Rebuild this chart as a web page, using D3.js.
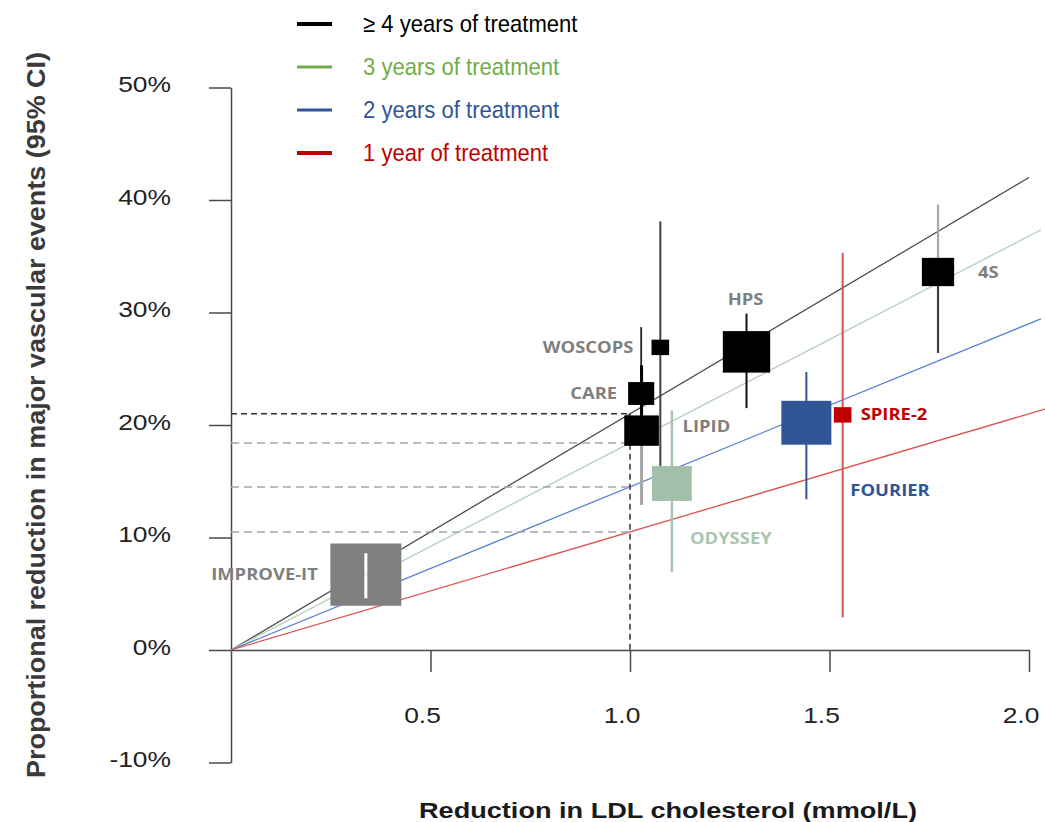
<!DOCTYPE html>
<html><head><meta charset="utf-8">
<script src="https://cdn.jsdelivr.net/npm/d3@7"></script>
<style>body{margin:0;background:#fff}</style>
</head><body>
<script>
// ---------------- DATA ----------------
const studies        = ["IMPROVE-IT","WOSCOPS","CARE","LIPID","ODYSSEY","HPS","FOURIER","SPIRE-2","4S"];
const ldlReduction   = [0.338, 1.076, 1.028, 1.029, 1.105, 1.292, 1.442, 1.533, 1.772];   // mmol/L
const riskReduction  = [6.7, 26.9, 22.8, 19.5, 14.8, 26.5, 20.2, 20.9, 33.6];            // %
const ciLower        = [4.6, 16.3, 19.0, 12.9, 6.9, 21.5, 13.4, 2.9, 26.4];
const ciUpper        = [8.6, 38.1, 28.7, 25.3, 21.3, 29.9, 24.7, 35.3, 39.6];
const studyWeight    = [50.4, 3.1, 6.8, 12.0, 15.8, 22.4, 25.0, 3.1, 10.4];
const treatmentGroup = ["ezetimibe","≥4","≥4","≥4","3","≥4","2","1","≥4"];

const groupKeys      = ["≥4","3","2","1"];
const legendLabels   = ["≥ 4 years of treatment","3 years of treatment","2 years of treatment","1 year of treatment"];
const slopePerMmol   = [21, 18.4, 14.5, 10.5];     // % reduction per 1 mmol/L
const lineEndLDL     = [2.0, 2.03, 2.03, 2.04];

const yTicks = [-10, 0, 10, 20, 30, 40, 50];
const xTicks = [0.5, 1.0, 1.5, 2.0];

// ---------------- STYLES ----------------
const W = 1045, H = 822;
const FONT = "'Liberation Sans', Arial, sans-serif";
const legendColor = {"≥4":"#000000","3":"#70ad47","2":"#2f5597","1":"#c00000"};
const trendColor  = {"≥4":"#4d4d4d","3":"#b4cfba","2":"#5a80d0","1":"#d9534f"};
const boxFill     = {"ezetimibe":"#7f7f7f","≥4":"#000000","3":"#a2bfa9","2":"#2f5597","1":"#c00000"};
const labelColor  = {"ezetimibe":"#7f7f7f","≥4":"#7f7f7f","3":"#a9c6b1","2":"#2f5597","1":"#c00000"};
const ciStyle = {
  "IMPROVE-IT":{hi:"#ffffff",lo:"#ffffff",w:3},
  "WOSCOPS":{hi:"#404040",lo:"#404040",w:2},
  "CARE":{hi:"#262626",lo:"#262626",w:1.8},
  "LIPID":{hi:"#000000",lo:"#a6a6a6",w:3},
  "ODYSSEY":{hi:"#a9c4b0",lo:"#a9c4b0",w:2.5},
  "HPS":{hi:"#111111",lo:"#111111",w:2},
  "FOURIER":{hi:"#2f5597",lo:"#2f5597",w:2},
  "SPIRE-2":{hi:"#d9534f",lo:"#d9534f",w:2},
  "4S":{hi:"#a6a6a6",lo:"#404040",w:2.2}
};
const labelLayout = {
  "IMPROVE-IT":{dx:-48,dy:0,anchor:"end"},
  "WOSCOPS":{dx:-27,dy:0,anchor:"end"},
  "CARE":{dx:-24,dy:0,anchor:"end"},
  "LIPID":{dx:41,dy:-4,anchor:"start"},
  "HPS":{dx:-1,dy:-53,anchor:"middle"},
  "ODYSSEY":{dx:18,dy:55,anchor:"start"},
  "FOURIER":{dx:44,dy:67,anchor:"start"},
  "SPIRE-2":{dx:18,dy:-1,anchor:"start"},
  "4S":{dx:40,dy:0,anchor:"start"}
};

// ---------------- SCALES ----------------
const x = d3.scaleLinear().domain([0, 2]).range([231, 1029]);
const y = d3.scaleLinear().domain([-10, 50]).range([762.5, 87.5]);
const boxW = d3.scaleSqrt().domain([0, 100]).range([0, 100]);
const ASPECT = 1.14;

const svg = d3.select("body").append("svg").attr("width", W).attr("height", H)
  .style("font-family", FONT);

const data = studies.map((s, i) => ({
  name: s, ldl: ldlReduction[i], rr: riskReduction[i], lo: ciLower[i], hi: ciUpper[i],
  w: studyWeight[i], g: treatmentGroup[i]
}));

// ---------------- AXES ----------------
const axisColor = "#4a4a4a";
const yAxis = svg.append("g").attr("transform", `translate(${x(0)},0)`)
  .call(d3.axisLeft(y).tickValues(yTicks).tickSize(22).tickSizeOuter(0).tickFormat(""));
const xAxis = svg.append("g").attr("transform", `translate(0,${y(0)})`)
  .call(d3.axisBottom(x).tickValues(xTicks).tickSize(22).tickSizeOuter(0).tickFormat(""));
[yAxis, xAxis].forEach(a => {
  a.selectAll("path,line").attr("stroke", axisColor).attr("stroke-width", 1.5);
});

// y tick labels
yTicks.forEach(t => {
  svg.append("g").attr("transform", `translate(171,${y(t) - 3})`)
    .append("text").attr("transform", "scale(1.2,1)")
    .attr("text-anchor", "end").attr("dy", "0.36em")
    .style("font-size", "22px").attr("fill", "#222")
    .text(t + "%");
});
// x tick labels
xTicks.forEach(t => {
  svg.append("g").attr("transform", `translate(${x(t) - 8},715)`)
    .append("text").attr("transform", "scale(1.2,1)")
    .attr("text-anchor", "middle").attr("dy", "0.36em")
    .style("font-size", "22px").attr("fill", "#222")
    .text(d3.format(".1f")(t));
});

// axis titles
svg.append("text").attr("x", 668).attr("y", 818).attr("text-anchor", "middle")
  .style("font-size", "22px").style("font-weight", "bold").attr("fill", "#1a1a1a")
  .attr("textLength", 498).attr("lengthAdjust", "spacingAndGlyphs")
  .text("Reduction in LDL cholesterol (mmol/L)");
svg.append("text").attr("transform", "translate(45,415) rotate(-90)").attr("text-anchor", "middle")
  .style("font-size", "26px").style("font-weight", "bold").attr("fill", "#3a3a3a")
  .attr("textLength", 726).attr("lengthAdjust", "spacingAndGlyphs")
  .text("Proportional reduction in major vascular events (95% CI)");

// ---------------- TREND LINES ----------------
const plot = svg.append("g");
groupKeys.forEach((g, i) => {
  plot.append("line")
    .attr("x1", x(0)).attr("y1", y(0))
    .attr("x2", x(lineEndLDL[i])).attr("y2", y(slopePerMmol[i] * lineEndLDL[i]))
    .attr("stroke", trendColor[g]).attr("stroke-width", 1.3);
});

// dashed reference lines at 1 mmol/L
groupKeys.forEach((g, i) => {
  const v = slopePerMmol[i] * 1.0;
  plot.append("line")
    .attr("x1", x(0)).attr("x2", x(1.0)).attr("y1", y(v)).attr("y2", y(v))
    .attr("stroke", i === 0 ? "#333" : "#a6a6a6").attr("stroke-width", 1.5)
    .attr("stroke-dasharray", i === 0 ? "6,4" : "8,5");
});
plot.append("line")
  .attr("x1", x(1.0)).attr("x2", x(1.0)).attr("y1", y(slopePerMmol[0])).attr("y2", y(0))
  .attr("stroke", "#333").attr("stroke-width", 1.5).attr("stroke-dasharray", "6,4");

// ---------------- STUDIES ----------------
function box(d) {
  const bw = boxW(d.w), bh = bw / ASPECT;
  return {x0: x(d.ldl) - bw / 2, y0: y(d.rr) - bh / 2, w: bw, h: bh};
}
function drawCI(d) {
  const s = ciStyle[d.name];
  plot.append("line").attr("x1", x(d.ldl)).attr("x2", x(d.ldl))
    .attr("y1", y(d.hi)).attr("y2", y(d.rr)).attr("stroke", s.hi).attr("stroke-width", s.w);
  plot.append("line").attr("x1", x(d.ldl)).attr("x2", x(d.ldl))
    .attr("y1", y(d.rr)).attr("y2", y(d.lo)).attr("stroke", s.lo).attr("stroke-width", s.w);
}
const inner = d => { const b = box(d); return y(d.hi) >= b.y0 && y(d.lo) <= b.y0 + b.h; };

data.filter(d => !inner(d)).forEach(drawCI);
data.forEach(d => {
  const b = box(d);
  plot.append("rect").attr("x", b.x0).attr("y", b.y0).attr("width", b.w).attr("height", b.h)
    .attr("fill", boxFill[d.g]);
});
data.filter(inner).forEach(drawCI);

// labels
data.forEach(d => {
  const L = labelLayout[d.name];
  svg.append("g").attr("transform", `translate(${x(d.ldl) + L.dx},${y(d.rr) + L.dy})`)
    .append("text").attr("transform", "scale(1.15,1)")
    .attr("text-anchor", L.anchor).attr("dy", "0.36em")
    .style("font-family", "'Open Sans', sans-serif").style("font-weight", "bold")
    .style("font-size", "16px").attr("fill", labelColor[d.g])
    .text(d.name);
});

// ---------------- LEGEND ----------------
const legendRowY = d3.scalePoint().domain(groupKeys).range([24, 153]);
groupKeys.forEach((g, i) => {
  const ry = legendRowY(g);
  svg.append("line").attr("x1", 297).attr("x2", 332).attr("y1", ry).attr("y2", ry)
    .attr("stroke", legendColor[g]).attr("stroke-width", (g === "≥4" || g === "1") ? 4 : 3);
  svg.append("g").attr("transform", `translate(363,${ry})`)
    .append("text").attr("transform", "scale(0.92,1)").attr("dy", "0.35em")
    .style("font-size", "24px").attr("fill", legendColor[g])
    .text(legendLabels[i]);
});
</script>
</body></html>
